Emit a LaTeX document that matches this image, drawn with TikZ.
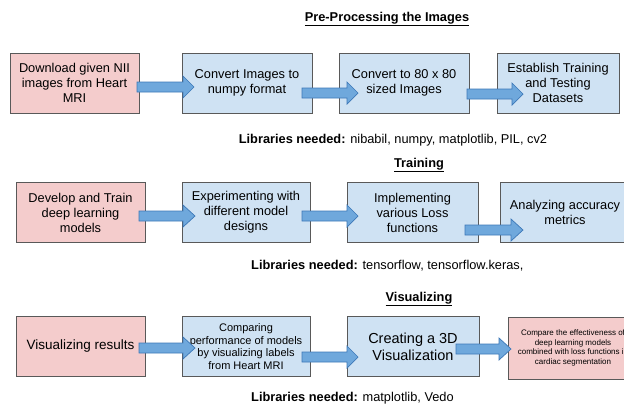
\documentclass[tikz,border=0pt]{standalone}
\usepackage{fontspec}
\setmainfont{Liberation Sans}
\definecolor{pinkfill}{HTML}{F4CCCC}
\definecolor{bluefill}{HTML}{CFE2F3}
\definecolor{boxline}{HTML}{595959}
\definecolor{arrfill}{HTML}{6FA8DC}
\definecolor{arredge}{HTML}{3D78B8}
\newcommand{\blockarr}[4]{%
  \draw[arr] (#1,{#4-5}) -- (#2,{#4-5}) -- (#2,{#4-11}) -- (#3,#4) -- (#2,{#4+11}) -- (#2,{#4+5}) -- (#1,{#4+5}) -- cycle;}
\tikzset{
  basebox/.style={draw=boxline, line width=0.8pt, align=center, inner sep=1pt, minimum height=60pt, font=\fontsize{12.8}{15}\selectfont},
  pinkbox/.style={basebox, fill=pinkfill},
  bluebox/.style={basebox, fill=bluefill},
  arr/.style={fill=arrfill, draw=arredge, line width=0.7pt, line join=miter},
  ttl/.style={inner sep=0pt, font=\fontsize{12.8}{15}\selectfont\bfseries},
  lib/.style={inner sep=0pt, font=\fontsize{12.8}{15}\selectfont}
}
\begin{document}
\begin{tikzpicture}[x=1pt,y=-1pt]
\useasboundingbox[fill=white] (0,0) rectangle (624,407);
% titles
\node[ttl] (t1) at (387,19) {\underline{Pre-Processing the Images}};
\node[ttl] (t2) at (419,165) {\underline{Training}};
\node[ttl] (t3) at (419,299) {\underline{Visualizing}};
% row 1
\node[pinkbox, minimum width=129pt] (a1) at (74.5,83) {Download given NII\\images from Heart\\MRI};
\node[bluebox, minimum width=130pt] (a2) at (247,83) {Convert Images to\\numpy format};
\node[bluebox, minimum width=130pt] (a3) at (404,83) {Convert to 80 x 80\\sized Images};
\node[bluebox, minimum width=122pt] (a4) at (558,83) {Establish Training\\and Testing\\Datasets};
\blockarr{137}{183}{194}{87}
\blockarr{302}{347}{358}{93}
\blockarr{467}{512}{523}{94}
\node[lib] (l1) at (393,140) {\textbf{Libraries needed:} nibabil, numpy, matplotlib, PIL, cv2};
% row 2
\node[pinkbox, minimum width=129pt] (b1) at (80.5,212.5) {Develop and Train\\deep learning\\models};
\node[bluebox, minimum width=128pt] (b2) at (246,212.5) {Experimenting with\\different model\\designs};
\node[bluebox, minimum width=131pt] (b3) at (412.5,212.5) {Implementing\\various Loss\\functions};
\node[bluebox, minimum width=130pt] (b4) at (565,212.5) {Analyzing accuracy\\metrics};
\blockarr{139}{183}{195}{216}
\blockarr{302}{347}{358}{216}
\blockarr{465}{511}{523}{230}
\node[lib, anchor=west] (l2) at (251,266) {\textbf{Libraries needed:} tensorflow, tensorflow.keras,};
% row 3
\node[pinkbox, minimum width=129pt, font=\fontsize{13.5}{15}\selectfont] (c1) at (80.5,346.5) {Visualizing results};
\node[bluebox, minimum width=128pt, font=\fontsize{11}{12.8}\selectfont] (c2) at (246,346.5) {Comparing\\performance of models\\by visualizing labels\\from Heart MRI};
\node[bluebox, minimum width=132pt, font=\fontsize{14.5}{17}\selectfont] (c3) at (413,346.5) {Creating a 3D\\Visualization};
\node[pinkbox, minimum width=130pt, minimum height=62pt, font=\fontsize{8}{9.4}\selectfont] (c4) at (573,348) {Compare the effectiveness of\\deep learning models\\combined with loss functions in\\cardiac segmentation};
\blockarr{139}{183}{195}{348}
\blockarr{302}{347}{358}{357}
\blockarr{456}{499}{511}{349}
\node[lib, anchor=west] (l3) at (251,398) {\textbf{Libraries needed:} matplotlib, Vedo};
\end{tikzpicture}
\end{document}
